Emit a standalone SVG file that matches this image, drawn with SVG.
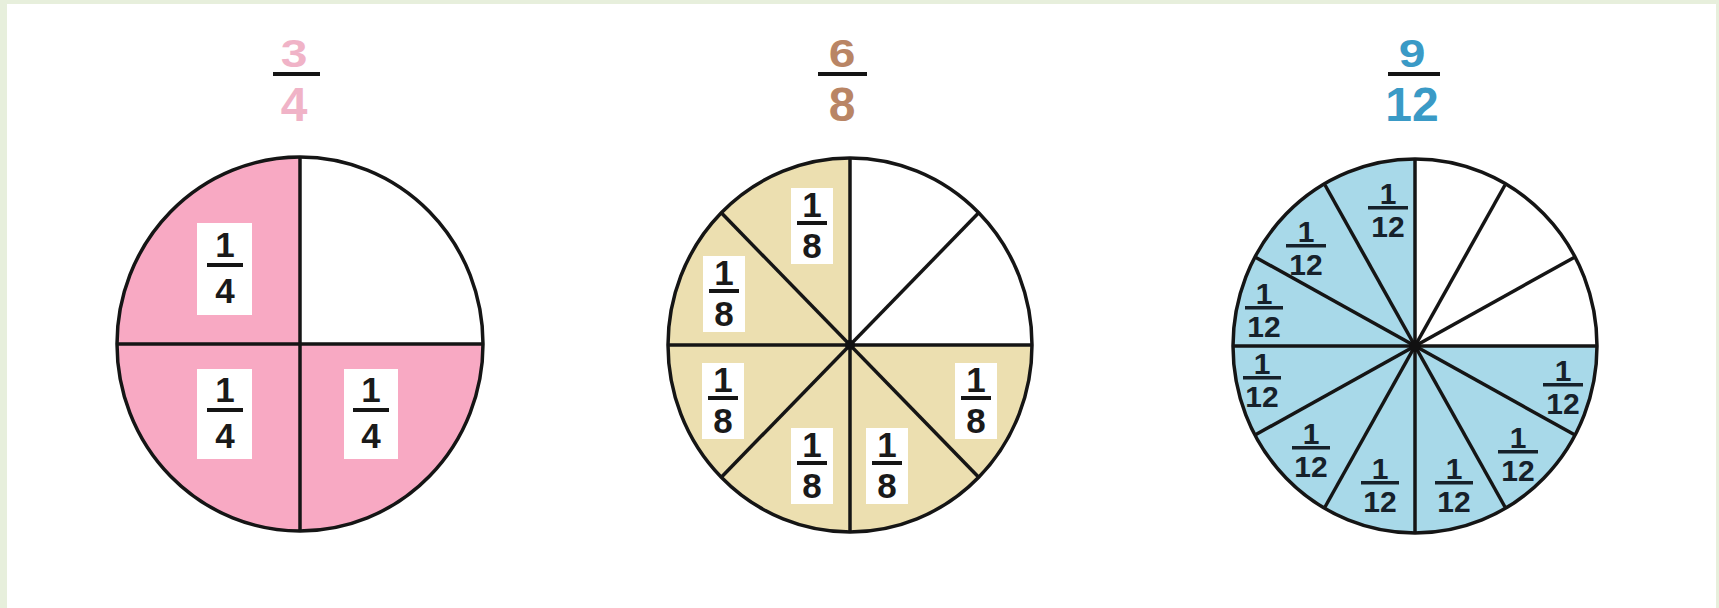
<svg xmlns="http://www.w3.org/2000/svg" width="1719" height="608" viewBox="0 0 1719 608">
<style>
.ol{fill:none;stroke:#151515;stroke-width:3.5}
.ln{stroke:#151515;stroke-width:3.5;fill:none}
.wh{fill:#ffffff}
.box{fill:#ffffff}
.t{font-family:"Liberation Sans",Arial,sans-serif;font-weight:bold;text-anchor:middle}
.lab{font-size:35px;fill:#1a1a1a}
.lab12{font-size:30px;fill:#16212b}
.title{font-size:48px}
.bar{fill:#151515}
</style>
<rect x="0" y="0" width="1719" height="608" fill="#e7efdc"/>
<rect x="7" y="4" width="1709" height="604" fill="#ffffff"/>

<g id="title-3-4">
<text class="t title" fill="#f0b3c7" transform="translate(294,67) scale(1,0.82)">3</text>
<rect class="bar" x="273" y="72" width="47" height="4"/>
<text class="t title" fill="#f0b3c7" x="294" y="121">4</text>
</g>
<g id="title-6-8">
<text class="t title" fill="#b98565" transform="translate(842,67) scale(1,0.82)">6</text>
<rect class="bar" x="818" y="72" width="49" height="4"/>
<text class="t title" fill="#b98565" x="842" y="121">8</text>
</g>
<g id="title-9-12">
<text class="t title" fill="#3a9ac6" transform="translate(1412,67) scale(1,0.82)">9</text>
<rect class="bar" x="1388" y="72" width="52" height="4"/>
<text class="t title" fill="#3a9ac6" x="1412" y="121">12</text>
</g>

<g id="circle-quarters">
<ellipse cx="300" cy="344" rx="183" ry="187" fill="#f8a9c3"/>
<path class="wh" d="M300,344 L483,344 A183,187 0 0 0 300,157 Z"/>
<line class="ln" x1="300" y1="157" x2="300" y2="531"/>
<line class="ln" x1="117" y1="344" x2="483" y2="344"/>
<ellipse class="ol" cx="300" cy="344" rx="183" ry="187"/>
<rect class="box" x="197" y="223" width="55" height="92"/>
<text class="t lab" x="225" y="257">1</text><rect class="bar" x="207" y="263" width="36" height="4"/><text class="t lab" x="225" y="303">4</text>
<rect class="box" x="197" y="369" width="55" height="90"/>
<text class="t lab" x="225" y="402">1</text><rect class="bar" x="207" y="408" width="36" height="4"/><text class="t lab" x="225" y="448">4</text>
<rect class="box" x="344" y="369" width="54" height="90"/>
<text class="t lab" x="371" y="402">1</text><rect class="bar" x="353" y="408" width="36" height="4"/><text class="t lab" x="371" y="448">4</text>
</g>

<g id="circle-eighths">
<ellipse cx="850" cy="345" rx="182" ry="187" fill="#ecdfb0"/>
<path class="wh" d="M850,345 L1032,345 A182,187 0 0 0 850,158 Z"/>
<line class="ln" x1="850" y1="158" x2="850" y2="532"/>
<line class="ln" x1="668" y1="345" x2="1032" y2="345"/>
<line class="ln" x1="721.3" y1="212.8" x2="978.7" y2="477.2"/>
<line class="ln" x1="721.3" y1="477.2" x2="978.7" y2="212.8"/>
<ellipse class="ol" cx="850" cy="345" rx="182" ry="187"/>
<circle cx="850" cy="345" r="5" fill="#111"/>
<rect class="box" x="791" y="188" width="42" height="76"/>
<text class="t lab" x="812" y="217">1</text><rect class="bar" x="797" y="221" width="30" height="4"/><text class="t lab" x="812" y="258">8</text>
<rect class="box" x="703" y="256" width="42" height="76"/>
<text class="t lab" x="724" y="285">1</text><rect class="bar" x="709" y="289" width="30" height="4"/><text class="t lab" x="724" y="326">8</text>
<rect class="box" x="702" y="363" width="42" height="76"/>
<text class="t lab" x="723" y="392">1</text><rect class="bar" x="708" y="396" width="30" height="4"/><text class="t lab" x="723" y="433">8</text>
<rect class="box" x="791" y="428" width="42" height="76"/>
<text class="t lab" x="812" y="457">1</text><rect class="bar" x="797" y="461" width="30" height="4"/><text class="t lab" x="812" y="498">8</text>
<rect class="box" x="866" y="428" width="42" height="76"/>
<text class="t lab" x="887" y="457">1</text><rect class="bar" x="872" y="461" width="30" height="4"/><text class="t lab" x="887" y="498">8</text>
<rect class="box" x="955" y="363" width="42" height="76"/>
<text class="t lab" x="976" y="392">1</text><rect class="bar" x="961" y="396" width="30" height="4"/><text class="t lab" x="976" y="433">8</text>
</g>

<g id="circle-twelfths">
<ellipse cx="1415" cy="346" rx="182" ry="187" fill="#a8d9e9"/>
<path class="wh" d="M1415,346 L1597,346 A182,187 0 0 0 1415,159 Z"/>
<line class="ln" x1="1415" y1="159" x2="1415" y2="533"/>
<line class="ln" x1="1233" y1="346" x2="1597" y2="346"/>
<line class="ln" x1="1575" y1="257" x2="1255" y2="435"/>
<line class="ln" x1="1505" y1="185" x2="1325" y2="507"/>
<line class="ln" x1="1325" y1="185" x2="1505" y2="507"/>
<line class="ln" x1="1255" y1="257" x2="1575" y2="435"/>
<ellipse class="ol" cx="1415" cy="346" rx="182" ry="187"/>
<circle cx="1415" cy="346" r="6" fill="#111"/>
<g class="t lab12">
<text x="1388" y="204">1</text><text x="1388" y="237">12</text>
<text x="1306" y="242">1</text><text x="1306" y="275">12</text>
<text x="1264" y="304">1</text><text x="1264" y="337">12</text>
<text x="1262" y="374">1</text><text x="1262" y="407">12</text>
<text x="1311" y="444">1</text><text x="1311" y="477">12</text>
<text x="1380" y="479">1</text><text x="1380" y="512">12</text>
<text x="1454" y="479">1</text><text x="1454" y="512">12</text>
<text x="1518" y="448">1</text><text x="1518" y="481">12</text>
<text x="1563" y="381">1</text><text x="1563" y="414">12</text>
</g>
<g fill="#16212b">
<rect x="1368" y="206" width="40" height="3.5"/>
<rect x="1286" y="244" width="40" height="3.5"/>
<rect x="1245" y="306" width="38" height="3.5"/>
<rect x="1243" y="376" width="38" height="3.5"/>
<rect x="1292" y="446" width="38" height="3.5"/>
<rect x="1361" y="481" width="38" height="3.5"/>
<rect x="1435" y="481" width="38" height="3.5"/>
<rect x="1498" y="450" width="40" height="3.5"/>
<rect x="1543" y="383" width="40" height="3.5"/>
</g>
</g>
</svg>
